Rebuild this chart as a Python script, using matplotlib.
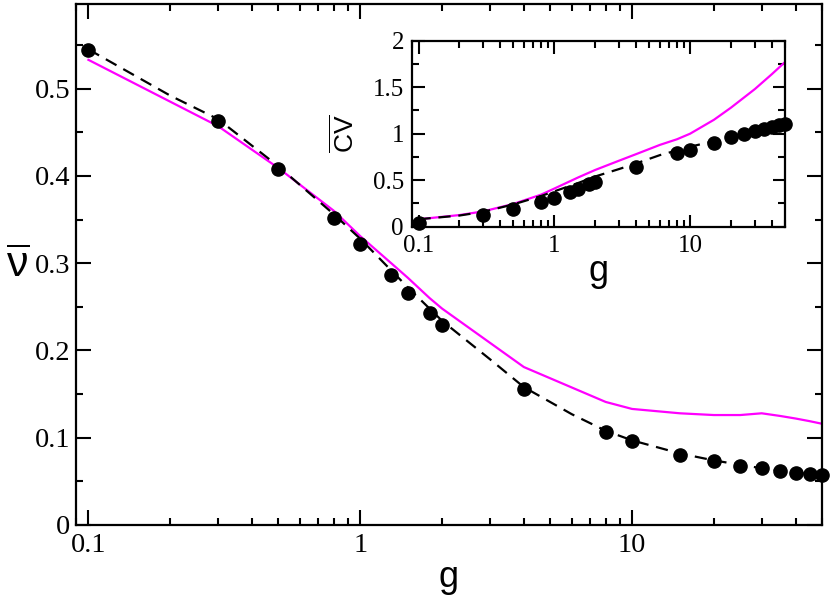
import numpy as np
import matplotlib
matplotlib.use("Agg")
import matplotlib.pyplot as plt
from matplotlib.ticker import LogLocator, NullFormatter, FuncFormatter, MultipleLocator

plt.rcParams.update({
    'mathtext.fontset': 'custom',
    'mathtext.rm': 'Liberation Sans',
    'mathtext.it': 'Liberation Sans',
    'mathtext.bf': 'Liberation Sans',
})

# ---- data ----
g_sim = [0.1, 0.3, 0.5, 0.8, 1.0, 1.3, 1.5, 1.8, 2.0, 4, 8, 10, 15, 20, 25, 30, 35, 40, 45, 50]
nu_sim = [0.544, 0.463, 0.408, 0.352, 0.322, 0.287, 0.266, 0.243, 0.229, 0.156, 0.107, 0.096,
          0.080, 0.073, 0.068, 0.065, 0.062, 0.060, 0.059, 0.057]
cv_sim = [0.043, 0.125, 0.19, 0.265, 0.31, 0.372, 0.408, 0.454, 0.479, 0.64, 0.79, 0.825,
          0.904, 0.961, 0.996, 1.025, 1.05, 1.071, 1.089, 1.104]

g_mag = [0.1, 0.3, 0.5, 0.8, 1.0, 1.3, 1.5, 1.8, 2.0, 4, 8, 10, 15, 20, 25, 30, 35, 40, 45, 50]
nu_mag = [0.533, 0.457, 0.409, 0.360, 0.331, 0.300, 0.283, 0.260, 0.248, 0.181, 0.141, 0.133,
          0.128, 0.126, 0.126, 0.128, 0.125, 0.122, 0.119, 0.116]

g_th = [0.1, 0.2, 0.3, 0.5, 0.8, 1.0, 1.5, 2.0, 3, 4, 6, 8, 10, 15, 20, 30, 40, 50]
nu_th = [0.545, 0.492, 0.465, 0.411, 0.356, 0.328, 0.272, 0.234, 0.190, 0.158, 0.127, 0.108,
         0.097, 0.082, 0.074, 0.065, 0.060, 0.057]

g_cv_th = [0.1, 0.2, 0.3, 0.5, 0.8, 1.0, 1.5, 2.0, 3, 4, 6, 8, 10, 15, 20, 30, 40, 50]
cv_th = [0.08, 0.12, 0.16, 0.24, 0.33, 0.38, 0.47, 0.54, 0.62, 0.68, 0.77, 0.82, 0.86,
         0.92, 0.96, 1.03, 1.07, 1.10]

g_cv_mag = [0.1, 0.2, 0.3, 0.5, 0.8, 1.0, 1.5, 2.0, 3, 4, 6, 8, 10, 15, 20, 30, 40, 50]
cv_mag = [0.08, 0.125, 0.165, 0.245, 0.345, 0.41, 0.53, 0.61, 0.71, 0.78, 0.88, 0.94, 1.0,
          1.15, 1.28, 1.48, 1.64, 1.77]

MAG = '#FF00FF'
serif = 'Liberation Serif'
sans = 'Liberation Sans'

fig = plt.figure(figsize=(8.3, 5.96), dpi=100)
ax = fig.add_axes([76/830, 1-525/596, (822-76)/830, (525-4)/596])


def style(a, ymaj, ymin, maj_len, min_len, xpad, ypad, fs):
    a.set_xscale('log')
    a.xaxis.set_major_locator(LogLocator(base=10))
    a.xaxis.set_minor_locator(LogLocator(base=10, subs=np.arange(2, 10)))
    a.xaxis.set_minor_formatter(NullFormatter())
    a.xaxis.set_major_formatter(FuncFormatter(lambda v, p: '%g' % v))
    a.yaxis.set_major_locator(MultipleLocator(ymaj))
    a.yaxis.set_minor_locator(MultipleLocator(ymin))
    a.yaxis.set_major_formatter(FuncFormatter(lambda v, p: '%g' % round(v, 3)))
    a.tick_params(which='both', direction='in', top=True, right=True, width=1.5)
    a.tick_params(which='major', length=maj_len)
    a.tick_params(which='minor', length=min_len)
    a.tick_params(axis='x', which='major', pad=xpad)
    a.tick_params(axis='y', which='major', pad=ypad)
    for s in a.spines.values():
        s.set_linewidth(1.6)
    for lab in a.get_xticklabels() + a.get_yticklabels():
        lab.set_fontfamily(serif)
        lab.set_fontsize(fs)


ax.plot(g_mag, nu_mag, color=MAG, lw=1.6, zorder=2)
ax.plot(g_th, nu_th, color='black', lw=1.6, ls=(0, (5.5, 3.5)), zorder=3)
ax.plot(g_sim, nu_sim, 'o', color='black', ms=9.5, zorder=4, clip_on=False)
ax.set_xlim(0.09, 50)
ax.set_ylim(0, 0.597)
style(ax, 0.1, 0.05, 10.5, 5.3, 6, 4, 20.5)
ax.set_xlabel('g', fontfamily=sans, fontsize=26, labelpad=1)
ax.set_ylabel(r'$\overline{\nu}$', fontsize=31, rotation=0, labelpad=12, va='center')

ins = fig.add_axes([412.3/830, 1-226.7/596, (785-412.3)/830, (226.7-40.7)/596])
ins.plot(g_cv_mag, cv_mag, color=MAG, lw=1.6, zorder=2)
ins.plot(g_cv_th, cv_th, color='black', lw=1.6, ls=(0, (5.5, 3.5)), zorder=3)
ins.plot(g_sim, cv_sim, 'o', color='black', ms=9.5, zorder=4, clip_on=False)
ins.set_xlim(0.09, 50)
ins.set_ylim(0, 2)
style(ins, 0.5, 0.25, 9, 5, 6, 6, 18)
ins.set_xlabel('g', fontfamily=sans, fontsize=26, labelpad=-2)
ins.set_ylabel(r'$\overline{\mathrm{CV}}$', fontsize=19, labelpad=9)

fig.savefig('out.png', dpi=100)
